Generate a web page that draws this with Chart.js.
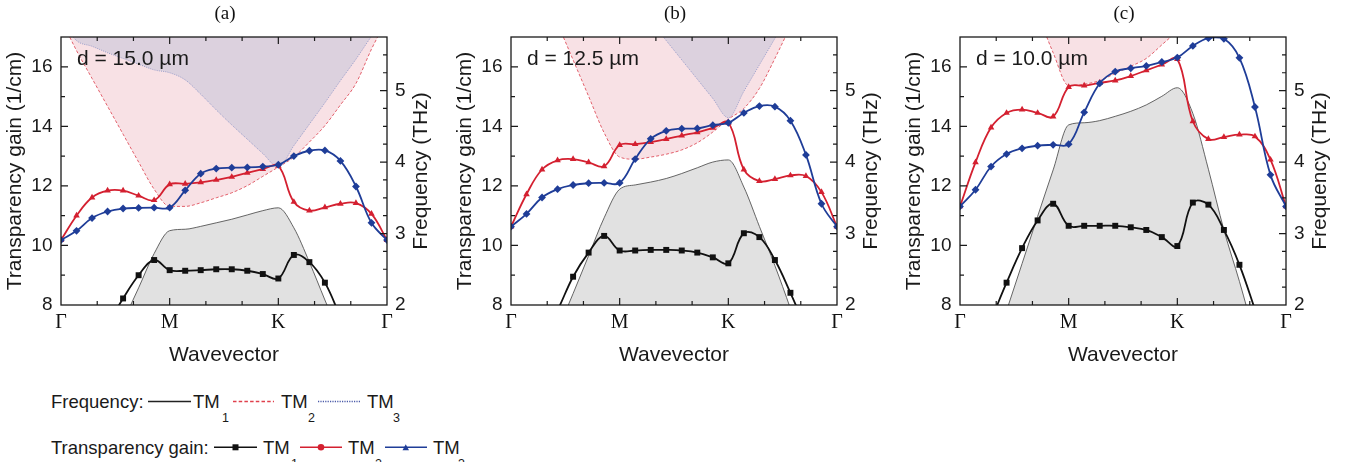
<!DOCTYPE html>
<html>
<head>
<meta charset="utf-8">
<script src="https://cdn.jsdelivr.net/npm/chart.js@4.4.1/dist/chart.umd.min.js"></script>
<style>
  body { margin: 0; background: #fff; width: 1361px; height: 462px; overflow: hidden; position: relative; }
  canvas { position: absolute; top: 0; }
  #legend { position: absolute; left: 0; top: 370px; }
  #legend text { font-family: "Liberation Sans", Arial, sans-serif; fill: #1a1a1a; }
</style>
</head>
<body>
<canvas id="panelA" width="450" height="370" style="left:0px"></canvas>
<canvas id="panelB" width="450" height="370" style="left:450px"></canvas>
<canvas id="panelC" width="450" height="370" style="left:899px"></canvas>

<svg id="legend" width="600" height="92" xmlns="http://www.w3.org/2000/svg">
  <!-- row 1 : frequency -->
  <text x="51" y="38" font-size="18.5">Frequency:</text>
  <line x1="148" y1="31.5" x2="191" y2="31.5" stroke="#222" stroke-width="1.4"/>
  <text x="193" y="38" font-size="18.5">TM</text><text x="222" y="51.5" font-size="12.5">1</text>
  <line x1="233" y1="31.5" x2="274" y2="31.5" stroke="#e0404c" stroke-width="1.3" stroke-dasharray="3.5,2.2"/>
  <text x="281" y="38" font-size="18.5">TM</text><text x="308" y="51.5" font-size="12.5">2</text>
  <line x1="318" y1="31.5" x2="360" y2="31.5" stroke="#4a5aa8" stroke-width="1.3" stroke-dasharray="1.2,1.2"/>
  <text x="367" y="38" font-size="18.5">TM</text><text x="393" y="51.5" font-size="12.5">3</text>
  <!-- row 2 : transparency gain -->
  <text x="51" y="84" font-size="18.5">Transparency gain:</text>
  <line x1="214" y1="77.3" x2="257" y2="77.3" stroke="#111" stroke-width="1.6"/>
  <rect x="232.5" y="74.3" width="6" height="6" fill="#111"/>
  <text x="263" y="84" font-size="18.5">TM</text><text x="291" y="97.5" font-size="12.5">1</text>
  <line x1="300" y1="77.3" x2="342" y2="77.3" stroke="#d42030" stroke-width="1.6"/>
  <circle cx="321" cy="77.3" r="3.3" fill="#d42030"/>
  <text x="348" y="84" font-size="18.5">TM</text><text x="375" y="97.5" font-size="12.5">2</text>
  <line x1="385" y1="77.3" x2="427" y2="77.3" stroke="#1f3d98" stroke-width="1.6"/>
  <polygon points="402.5,80.3 409,80.3 405.75,74.3" fill="#1f3d98"/>
  <text x="433" y="84" font-size="18.5">TM</text><text x="458" y="97.5" font-size="12.5">3</text>
</svg>

<script>
// wavevector path Γ -> M -> K -> Γ, 7 steps per segment
const kIndex = [0, 1, 2, 3, 4, 5, 6, 7, 8, 9, 10, 11, 12, 13, 14, 15, 16, 17, 18, 19, 20, 21];
const kTickValues = [0, 7, 14, 21];
const kTickLabels = ['Γ', 'M', 'K', 'Γ'];
const gainTicks = [8, 10, 12, 14, 16];
const freqTicks = [2, 3, 4, 5];
const panelTitles = ['(a)', '(b)', '(c)'];
const thicknessLabels = ['d = 15.0 µm', 'd = 12.5 µm', 'd = 10.0 µm'];

// (a) d = 15.0 um
const gainTM1_a = [null, null, 6.5, 7.35, 8.22, 9.0, 9.51, 9.17, 9.15, 9.17, 9.2, 9.2, 9.15, 9.04, 8.89, 9.68, 9.44, 8.75, 7.6, 6.5, null, null];
const gainTM2_a = [10.18, 11.0, 11.61, 11.84, 11.84, 11.67, 11.52, 12.05, 12.07, 12.12, 12.2, 12.3, 12.44, 12.56, 12.67, 11.46, 11.17, 11.28, 11.4, 11.42, 11.06, 10.18];
const gainTM3_a = [10.18, 10.49, 10.92, 11.14, 11.24, 11.26, 11.27, 11.27, 11.85, 12.41, 12.58, 12.61, 12.62, 12.65, 12.71, 13.0, 13.18, 13.19, 12.84, 11.98, 10.76, 10.18];
const freqTM1_a = [0, 0.42, 0.86, 1.31, 1.77, 2.24, 2.72, 3.04, 3.06, 3.1, 3.15, 3.2, 3.26, 3.32, 3.36, 3.08, 2.6, 2.07, 1.55, 1.03, 0.5, 0];
const freqTM2_a = [6.0, 5.56, 5.17, 4.78, 4.39, 4.0, 3.62, 3.38, 3.38, 3.43, 3.5, 3.57, 3.67, 3.8, 3.93, 4.07, 4.28, 4.51, 4.8, 5.1, 5.58, 6.0];
const freqTM3_a = [6.0, 5.7, 5.62, 5.53, 5.45, 5.37, 5.29, 5.25, 5.15, 4.95, 4.73, 4.52, 4.32, 4.12, 3.93, 4.23, 4.53, 4.83, 5.14, 5.44, 5.76, 6.05];

// (b) d = 12.5 um
const gainTM1_b = [null, null, 6.9, 7.83, 8.95, 9.76, 10.32, 9.83, 9.83, 9.85, 9.85, 9.83, 9.76, 9.6, 9.4, 10.41, 10.28, 9.51, 8.41, 7.2, null, null];
const gainTM2_b = [10.63, 11.72, 12.55, 12.86, 12.9, 12.79, 12.66, 13.37, 13.4, 13.47, 13.57, 13.69, 13.8, 13.95, 14.12, 12.55, 12.16, 12.23, 12.35, 12.33, 11.79, 10.63];
const gainTM3_b = [10.63, 11.06, 11.61, 11.89, 12.03, 12.09, 12.1, 12.1, 12.9, 13.58, 13.85, 13.92, 13.93, 14.04, 14.12, 14.45, 14.68, 14.66, 14.19, 13.04, 11.4, 10.63];
const freqTM1_b = [0, 0.55, 1.1, 1.64, 2.16, 2.69, 3.22, 3.62, 3.68, 3.72, 3.77, 3.84, 3.92, 4.0, 4.03, 3.65, 3.1, 2.55, 1.95, 1.3, 0.65, 0];
const freqTM2_b = [null, null, null, 5.94, 5.43, 4.92, 4.41, 4.07, 4.04, 4.07, 4.11, 4.17, 4.27, 4.42, 4.6, 4.75, 5.03, 5.45, 5.9, null, null, null];
const freqTM3_b = [null, null, null, null, null, null, null, null, null, 5.97, 5.7, 5.43, 5.16, 4.89, 4.62, 4.99, 5.36, 5.73, 6.1, null, null, null];

// (c) d = 10.0 um
const gainTM1_c = [null, 6.3, 7.5, 8.75, 9.91, 10.84, 11.4, 10.66, 10.66, 10.66, 10.66, 10.61, 10.52, 10.28, 9.98, 11.44, 11.37, 10.52, 9.35, 7.85, 6.3, null];
const gainTM2_c = [11.31, 12.79, 13.96, 14.45, 14.56, 14.45, 14.33, 15.32, 15.37, 15.46, 15.54, 15.69, 15.88, 16.07, 16.26, 14.17, 13.57, 13.64, 13.72, 13.66, 12.88, 11.31];
const gainTM3_c = [11.31, 11.87, 12.65, 13.07, 13.26, 13.35, 13.38, 13.4, 14.47, 15.44, 15.84, 15.95, 16.03, 16.16, 16.31, 16.7, 16.96, 16.94, 16.3, 14.65, 12.37, 11.31];
const freqTM1_c = [0, 0.62, 1.27, 1.92, 2.58, 3.24, 3.89, 4.52, 4.55, 4.58, 4.64, 4.71, 4.8, 4.92, 5.04, 4.68, 3.9, 3.05, 2.33, 1.55, 0.78, 0];
const freqTM2_c = [null, null, null, null, null, 6.08, 5.53, 5.07, 5.09, 5.14, 5.24, 5.34, 5.45, 5.64, 5.84, 6.1, null, null, null, null, null, null];
const freqTM3_c = [];

const SANS = '"Liberation Sans", Arial, sans-serif';
const SERIF = '"Liberation Serif", "Times New Roman", serif';
const RED = '#d42030';
const BLUE = '#1f3d98';
const BLACK = '#111';

// frame, inward ticks, thickness label, right axis title
const framePlugin = {
  id: 'frameTicks',
  afterDatasetsDraw(chart, args, opts) {
    const { ctx, chartArea: a } = chart;
    const xs = chart.scales.x, yl = chart.scales.y, yr = chart.scales.y1;
    ctx.save();
    ctx.strokeStyle = '#1a1a1a';
    ctx.lineWidth = 1.2;
    ctx.beginPath();
    const kStep = 7 / 3;
    for (let i = 1; i < 9; i++) {
      const px = xs.getPixelForValue(i * kStep);
      const len = i % 3 === 0 ? 7 : 4;
      ctx.moveTo(px, a.bottom); ctx.lineTo(px, a.bottom - len);
      ctx.moveTo(px, a.top); ctx.lineTo(px, a.top + len);
    }
    for (let v = yl.min + 1; v < yl.max; v++) {
      const py = yl.getPixelForValue(v);
      const len = v % 2 === 0 ? 7 : 4;
      ctx.moveTo(a.left, py); ctx.lineTo(a.left + len, py);
    }
    for (let i = 1; yr.min + i * 0.25 < yr.max; i++) {
      const py = yr.getPixelForValue(yr.min + i * 0.25);
      const len = i % 4 === 0 ? 7 : 4;
      ctx.moveTo(a.right, py); ctx.lineTo(a.right - len, py);
    }
    ctx.stroke();
    ctx.lineWidth = 1.3;
    ctx.strokeRect(a.left, a.top, a.right - a.left, a.bottom - a.top);

    ctx.fillStyle = '#1a1a1a';
    ctx.font = '21px ' + SANS;
    ctx.textBaseline = 'middle';
    ctx.textAlign = 'left';
    ctx.fillText(opts.label, a.left + 16, a.top + 22);

    ctx.translate(a.right + 34, (a.top + a.bottom) / 2);
    ctx.rotate(-Math.PI / 2);
    ctx.textAlign = 'center';
    ctx.fillText('Frequency (THz)', 0, 0);
    ctx.restore();
  }
};

function buildPanel(id, title, label, gains, freqs) {
  const ctx = document.getElementById(id).getContext('2d');
  new Chart(ctx, {
    type: 'line',
    data: {
      labels: kIndex,
      datasets: [
        // frequency bands (right axis)
        { data: freqs[1], yAxisID: 'y1', order: 6, borderColor: '#e0505c', borderWidth: 0.9, borderDash: [3, 2],
          fill: 'end', backgroundColor: '#f8e1e5', pointRadius: 0, cubicInterpolationMode: 'monotone' },
        { data: freqs[2], yAxisID: 'y1', order: 5, borderColor: '#8e95c6', borderWidth: 0.9, borderDash: [1, 1.2],
          fill: 'end', backgroundColor: '#dcd1de', pointRadius: 0, cubicInterpolationMode: 'monotone' },
        { data: freqs[0], yAxisID: 'y1', order: 4, borderColor: '#555', borderWidth: 0.9,
          fill: 'start', backgroundColor: '#e1e1e1', pointRadius: 0, cubicInterpolationMode: 'monotone' },
        // transparency gain (left axis)
        { data: gains[0], yAxisID: 'y', order: 3, borderColor: BLACK, backgroundColor: BLACK, borderWidth: 1.8,
          tension: 0.4, pointStyle: 'rect', pointRadius: 4.2, pointBorderWidth: 0 },
        { data: gains[1], yAxisID: 'y', order: 2, borderColor: RED, backgroundColor: RED, borderWidth: 1.8,
          tension: 0.4, pointStyle: 'triangle', pointRadius: 3.8, pointBorderWidth: 0 },
        { data: gains[2], yAxisID: 'y', order: 1, borderColor: BLUE, backgroundColor: BLUE, borderWidth: 1.8,
          tension: 0.4, pointStyle: 'rectRot', pointRadius: 3.9, pointBorderWidth: 0 }
      ]
    },
    options: {
      responsive: false,
      animation: false,
      devicePixelRatio: 1,
      layout: { padding: 0 },
      plugins: {
        legend: { display: false },
        tooltip: { enabled: false },
        title: { display: true, text: title, color: '#111', font: { family: SERIF, size: 19, weight: 'normal' },
                 padding: { top: 2.6, bottom: 11.6 } },
        frameTicks: { label: label }
      },
      scales: {
        x: {
          type: 'linear', min: 0, max: 21,
          grid: { display: false, drawTicks: false },
          border: { display: false },
          afterBuildTicks: (s) => { s.ticks = kTickValues.map(v => ({ value: v })); },
          afterFit: (s) => { s.height = 65; },
          ticks: { autoSkip: false, maxRotation: 0, padding: 6, color: '#111',
                   font: { family: SERIF, size: 20 },
                   callback: (v) => kTickLabels[kTickValues.indexOf(v)] },
          title: { display: true, text: 'Wavevector', color: '#1a1a1a', font: { family: SANS, size: 21 },
                   padding: { top: 0, bottom: 2 } }
        },
        y: {
          position: 'left', min: 8, max: 17,
          grid: { display: false, drawTicks: false },
          border: { display: false },
          afterBuildTicks: (s) => { s.ticks = gainTicks.map(v => ({ value: v })); },
          afterFit: (s) => { s.width = 61; },
          ticks: { padding: 8.5, color: '#1a1a1a', font: { family: SANS, size: 19 } },
          title: { display: true, text: 'Transparency gain (1/cm)', color: '#1a1a1a',
                   font: { family: SANS, size: 21 }, padding: { top: 3, bottom: 0 } }
        },
        y1: {
          position: 'right', min: 2, max: 5.75,
          grid: { display: false, drawTicks: false },
          border: { display: false },
          afterBuildTicks: (s) => { s.ticks = freqTicks.map(v => ({ value: v })); },
          afterFit: (s) => { s.width = 63; },
          ticks: { padding: 8, color: '#1a1a1a', font: { family: SANS, size: 19 } }
        }
      }
    },
    plugins: [framePlugin]
  });
}

buildPanel('panelA', panelTitles[0], thicknessLabels[0],
  [gainTM1_a, gainTM2_a, gainTM3_a], [freqTM1_a, freqTM2_a, freqTM3_a]);
buildPanel('panelB', panelTitles[1], thicknessLabels[1],
  [gainTM1_b, gainTM2_b, gainTM3_b], [freqTM1_b, freqTM2_b, freqTM3_b]);
buildPanel('panelC', panelTitles[2], thicknessLabels[2],
  [gainTM1_c, gainTM2_c, gainTM3_c], [freqTM1_c, freqTM2_c, freqTM3_c]);
</script>
</body>
</html>
